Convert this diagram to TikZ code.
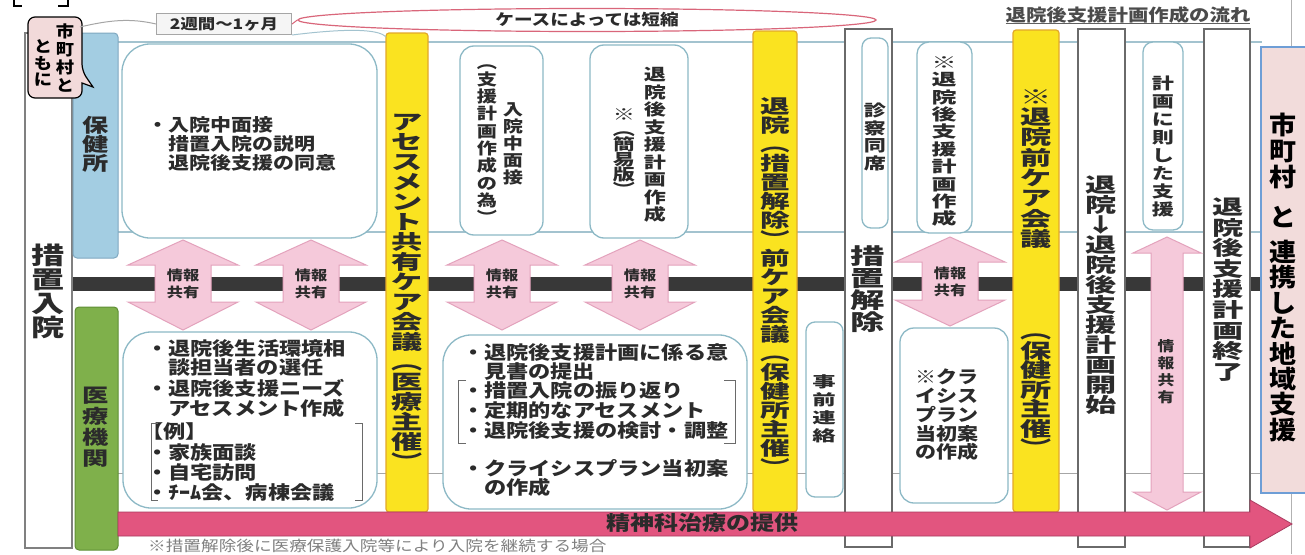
\documentclass[tikz,border=0pt]{standalone}
\usepackage{fontspec}
\usepackage{graphicx}
\setmainfont{Noto Sans CJK JP}[FakeStretch=1.2]
\usetikzlibrary{shapes.geometric}

\definecolor{ink}{HTML}{2B2B2B}
\definecolor{yel}{HTML}{FAE320}
\definecolor{yelb}{HTML}{E2A82A}
\definecolor{pinkA}{HTML}{F5C9DA}
\definecolor{pinkAb}{HTML}{E3A2BC}
\definecolor{barc}{HTML}{383838}
\definecolor{mag}{HTML}{E2557F}
\definecolor{magb}{HTML}{A83A5E}
\definecolor{bub}{HTML}{F2DADA}
\definecolor{rboxc}{HTML}{F2DCDB}
\definecolor{rboxb}{HTML}{6E9ED6}
\definecolor{hok}{HTML}{A3CDE2}
\definecolor{hokb}{HTML}{7FA8C0}
\definecolor{iry}{HTML}{7FB04B}
\definecolor{iryb}{HTML}{5F8F35}
\definecolor{tealb}{HTML}{8DB9C6}
\definecolor{band}{HTML}{A3C3CF}
\definecolor{colb}{HTML}{6A6A6A}
\definecolor{redl}{HTML}{D9667A}

\makeatletter
\newcommand\vt[3][1.3]{\vbox{\baselineskip=#2pt\lineskiplimit=-\maxdimen\lineskip=0pt
  \@tfor\vt@c:=#3\do{\hbox to 2em{\hss\scalebox{#1}[1]{\vt@c}\hss}}}}
\makeatother

\newcommand\bx[6]{\node[#2, minimum width={#5-#3}, minimum height={#6-#4}] (#1) at (#3,#4) {};}
\newcommand\hl[5]{\node[jf=#2, anchor=base west] (#1) at (#3,{#4+0.38*#2}) {#5};}
\newcommand\darrow[7]{\filldraw[infoarrow] (#1,#2) -- ({#1+#6},{#2+#4}) -- ({#1+#7},{#2+#4}) -- ({#1+#7},{#3-#5}) -- ({#1+#6},{#3-#5}) -- (#1,#3) -- ({#1-#6},{#3-#5}) -- ({#1-#7},{#3-#5}) -- ({#1-#7},{#2+#4}) -- ({#1-#6},{#2+#4}) -- cycle;}

\tikzset{
  rect/.style={inner sep=0pt, outer sep=0pt, anchor=north west},
  yelcol/.style={rect, fill=yel, draw=yelb, line width=1.2pt, rounded corners=3pt},
  whcol/.style={rect, fill=white, draw=colb, line width=1.2pt},
  hokbox/.style={rect, fill=hok, draw=hokb, line width=1pt, rounded corners=4pt},
  irybox/.style={rect, fill=iry, draw=iryb, line width=1pt, rounded corners=4pt},
  rboxst/.style={rect, fill=rboxc, draw=rboxb, line width=1.2pt},
  rbx/.style={rect, fill=white, draw=tealb, line width=1.3pt, rounded corners=#1},
  jf/.style={font=\bfseries\fontsize{#1}{#1}\selectfont, text=ink, inner sep=0pt, outer sep=0pt},
  infoarrow/.style={fill=pinkA, draw=pinkAb, line width=1pt},
  brk/.style={draw=colb, line width=1pt},
  bandline/.style={draw=band, line width=1.2pt},
  ilabel/.style={font=\bfseries\fontsize{13.5}{17}\selectfont, text=ink, align=center, inner sep=0pt}
}

\begin{document}
\begin{tikzpicture}[x=1pt,y=-1pt]
\useasboundingbox (0,0) rectangle (1305,554);
\fill[white] (0,0) rectangle (1305,554);

% corner marks and right frame line
\draw[line width=2.5pt, black] (14,0) -- (14,6) -- (22,6);
\draw[line width=2.5pt, black] (68,0) -- (68,6) -- (58,6);
\draw[gray!60, line width=1pt] (1291,0) -- (1291,554);

% band lines
\draw[bandline] (118,42) -- (1262,42);
\draw[bandline] (118,232) -- (1262,232);
\draw[draw=gray!70, line width=1pt] (118,473) -- (1262,473);

% dark bar
\fill[barc] (72,277) rectangle (1262,291);

% columns
\bx{colSochi}{whcol, draw=gray}{25}{33}{72}{548}
\bx{colHoken}{hokbox}{73}{33}{118}{258}
\bx{colIryo}{irybox}{75}{307}{118}{550}
\bx{colAse}{yelcol}{386}{33}{428}{512}
\bx{colMae}{yelcol}{753}{31}{797}{512}
\bx{colKaijo}{whcol}{845}{29}{892}{547}
\bx{colMae2}{yelcol}{1013}{30}{1059}{512}
\bx{colKaishi}{whcol}{1078}{29}{1125}{547}
\bx{colShuryo}{whcol}{1204}{29}{1250}{547}

% rounded boxes
\bx{boxA}{rbx=28}{122}{44}{377}{238}
\bx{boxB}{rbx=28}{123}{332}{377}{508}
\bx{boxC}{rbx=14}{460}{46}{543}{235}
\bx{boxD}{rbx=14}{590}{45}{688}{238}
\bx{boxE}{rbx=28}{443}{335}{747}{509}
\bx{boxF}{rbx=9}{806}{322}{843}{497}
\bx{boxG}{rbx=9}{862}{38}{888}{228}
\bx{boxH}{rbx=12}{917}{42}{972}{233}
\bx{boxI}{rbx=14}{900}{328}{1008}{503}
\bx{boxJ}{rbx=10}{1143}{42}{1183}{230}

% info arrows
\darrow{183}{240}{330}{25}{28}{55}{28}
\darrow{311}{240}{330}{25}{28}{55}{28}
\darrow{502}{240}{330}{25}{28}{55}{28}
\darrow{640}{240}{330}{25}{28}{55}{28}
\darrow{950}{237}{326}{25}{26}{55}{28}
\darrow{1167}{237}{510}{16}{18}{34}{16}
\node[ilabel] (i1) at (183,284) {情報\\共有};
\node[ilabel] (i2) at (311,284) {情報\\共有};
\node[ilabel] (i3) at (502,284) {情報\\共有};
\node[ilabel] (i4) at (640,284) {情報\\共有};
\node[ilabel] (i5) at (950,282) {情報\\共有};
\node[jf=14] (tJoho) at (1166,372) {\vt[1]{17}{情報共有}};

% big bottom arrow
\filldraw[fill=mag, draw=magb, line width=0.8pt] (118,512) -- (1250,512) -- (1250,500) -- (1292,524) -- (1250,548) -- (1250,536) -- (118,536) -- cycle;
\node[jf=20] (tSeishin) at (702,523) {精神科治療の提供};

% right pink box
\bx{rbox}{rboxst}{1261}{47}{1310}{493}

% speech bubble
\filldraw[fill=bub, draw=black, line width=1.2pt, rounded corners=7pt] (28,17) -- (82,17) -- (82,71) [sharp corners] -- (93,87) -- (82,83) [rounded corners=7pt] -- (82,98) -- (28,98) -- cycle;
\node[rect, minimum width=54, minimum height=81] (bubble) at (28,17) {};
\coordinate (bubC) at (80,27);

% top annotations
\node[draw=gray!70, fill=gray!8, line width=1pt, minimum width=135, minimum height=21, inner sep=0pt, font=\bfseries\fontsize{14.5}{14.5}\selectfont, text=ink] (twoweek) at (224,24) {2週間〜1ヶ月};
\node[ellipse, draw=redl, line width=1.2pt, minimum width=578, minimum height=23, inner sep=0pt, font=\bfseries\fontsize{15.5}{15.5}\selectfont, text=ink] (short) at (587,20) {ケースによっては短縮};
\draw[gray!70, line width=1pt] (bubC) .. controls (110,20) and (130,18) .. (twoweek.west);
\draw[redl, line width=1pt] (twoweek.east) -- (short.west);
\coordinate (aseTop) at (386,37);
\draw[band, line width=1pt] (twoweek.south east) .. controls (340,29) and (378,28) .. (aseTop);
\node[jf=17, text=ink!85] (title) at (1128,15) {退院後支援計画作成の流れ};
\draw[ink!75, line width=0.9pt] (title.south west) -- (title.south east);

% vertical texts
\node[jf=24] (tSochi) at (48,291) {\vt[1.15]{24}{措置入院}};
\node[jf=19] (tHoken) at (96,144) {\vt[1.15]{19}{保健所}};
\node[jf=19] (tIryo) at (96,427) {\vt[1.15]{21}{医療機関}};
\node[jf=20] (tAse) at (407,292) {\vt{20}{アセスメント共有ケア会議︵医療主催︶}};
\node[jf=16] (tNyu1) at (513,144) {\vt[1.05]{17}{入院中面接}};
\node[jf=16] (tNyu2) at (487,144) {\vt[1.05]{17.3}{︵支援計画作成の為︶}};
\node[jf=16] (tKei1) at (655,145) {\vt[1.15]{17.5}{退院後支援計画作成}};
\node[jf=16] (tKei2) at (624,152) {\vt[1.15]{15}{※︵簡易版︶}};
\node[jf=19] (tMae) at (775,286) {\vt{19}{退院︵措置解除︶前ケア会議︵保健所主催︶}};
\node[jf=15] (tJizen) at (824,409) {\vt{18}{事前連絡}};
\node[jf=16] (tShin) at (875,137) {\vt[1.15]{17.7}{診察同席}};
\node[jf=22] (tKaijo) at (868,289) {\vt{22}{措置解除}};
\node[jf=16] (tSaku) at (944,141.5) {\vt{17.4}{※退院後支援計画作成}};
\node[jf=20] (tMae2a) at (1036,169) {\vt{20.3}{※退院前ケア会議}};
\node[jf=20] (tMae2b) at (1036,395) {\vt{19.5}{︵保健所主催︶}};
\node[jf=20] (tKaishi) at (1101,295) {\vt{20}{退院↓退院後支援計画開始}};
\node[jf=16] (tSoku) at (1163,146.5) {\vt[1.15]{17.9}{計画に則した支援}};
\node[jf=20] (tShuryo) at (1228,289.5) {\vt{20.6}{退院後支援計画終了}};
\node[jf=25, text=black] (tShi1) at (1283,151) {\vt[0.9]{26}{市町村}};
\node[jf=25, text=black] (tShi2) at (1283,217) {\vt[0.9]{26}{と}};
\node[jf=25, text=black] (tShi3) at (1283,341) {\vt[0.9]{25.4}{連携した地域支援}};
\node[jf=16, text=black] (tBub1) at (65,58.5) {\vt[0.95]{18}{市町村と}};
\node[jf=16, text=black] (tBub2) at (43,63) {\vt[0.95]{16.5}{ともに}};

% horizontal texts
\hl{a1}{17.5}{147}{125}{・入院中面接}
\hl{a2}{17.5}{168}{144}{措置入院の説明}
\hl{a3}{17.5}{168}{163}{退院後支援の同意}

\hl{b1}{18.5}{146}{348}{・退院後生活環境相}
\hl{b2}{18.5}{168}{367}{談担当者の選任}
\hl{b3}{18.5}{146}{388}{・退院後支援ニーズ}
\hl{b4}{18.5}{168}{408}{アセスメント作成}
\hl{b5}{18.5}{141}{431}{【例】}
\hl{b6}{18.5}{146}{452}{・家族面談}
\hl{b7}{18.5}{146}{472}{・自宅訪問}
\hl{b8}{18.5}{146}{492}{・ﾁｰﾑ会、病棟会議}
\draw[brk] (158,423) -- (151,423) -- (151,500) -- (158,500);
\draw[brk] (355,423) -- (362,423) -- (362,500) -- (355,500);

\hl{c1}{18.5}{462}{352}{・退院後支援計画に係る意}
\hl{c2}{18.5}{484}{371}{見書の提出}
\hl{c3}{18.5}{462}{390}{・措置入院の振り返り}
\hl{c4}{18.5}{462}{410}{・定期的なアセスメント}
\hl{c5}{18.5}{462}{430}{・退院後支援の検討・調整}
\hl{c6}{18.5}{462}{468}{・クライシスプラン当初案}
\hl{c7}{18.5}{484}{487}{の作成}
\draw[brk] (466,380) -- (458,380) -- (458,443) -- (466,443);
\draw[brk] (724,380) -- (735,380) -- (735,443) -- (724,443);

\hl{d1}{17.5}{915}{377}{※クラ}
\hl{d2}{17.5}{915}{396}{イシス}
\hl{d3}{17.5}{915}{415}{プラン}
\hl{d4}{17.5}{915}{434}{当初案}
\hl{d5}{17.5}{915}{452}{の作成}

\node[font=\fontsize{14.7}{14.7}\selectfont, text=gray, anchor=base west, inner sep=0pt] (foot) at (148,{546+0.38*14.7}) {※措置解除後に医療保護入院等により入院を継続する場合};
\end{tikzpicture}
\end{document}
